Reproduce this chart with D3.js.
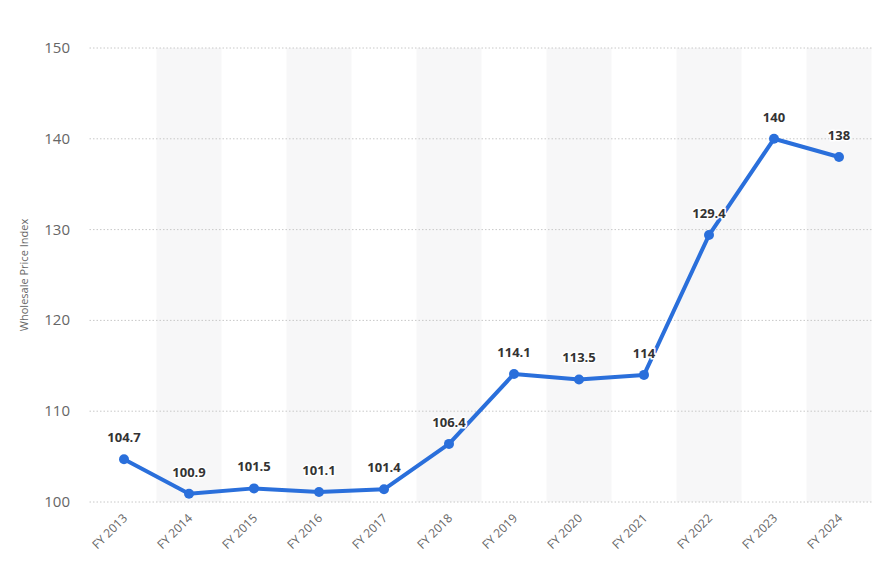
<!DOCTYPE html>
<html>
<head>
<meta charset="utf-8">
<script src="https://cdn.jsdelivr.net/npm/d3@7"></script>
<style>
  body { margin: 0; background: #fff; }
  text { font-family: "Open Sans", "DejaVu Sans", sans-serif; }
</style>
</head>
<body>
<svg id="chart" width="879" height="567"></svg>
<script>
// Chart data
const years = ['FY 2013', 'FY 2014', 'FY 2015', 'FY 2016', 'FY 2017', 'FY 2018',
               'FY 2019', 'FY 2020', 'FY 2021', 'FY 2022', 'FY 2023', 'FY 2024'];
const wpi = [104.7, 100.9, 101.5, 101.1, 101.4, 106.4, 114.1, 113.5, 114, 129.4, 140, 138];
const yTicks = [100, 110, 120, 130, 140, 150];

const svg = d3.select('#chart');
const plotLeft = 91.5, plotRight = 871.5, plotTop = 48, plotBottom = 502;

const x = d3.scaleBand().domain(years).range([plotLeft, plotRight]);
const y = d3.scaleLinear().domain([100, 150]).range([plotBottom, plotTop]);

// Alternating shaded bands
svg.selectAll('rect.band')
    .data(years.filter((d, i) => i % 2 === 1))
    .enter().append('rect')
    .attr('x', d => x(d))
    .attr('y', plotTop)
    .attr('width', x.bandwidth())
    .attr('height', plotBottom - plotTop)
    .attr('fill', '#f7f7f8');

// Gridlines
svg.selectAll('line.grid')
    .data(yTicks)
    .enter().append('line')
    .attr('x1', plotLeft - 2).attr('x2', plotRight)
    .attr('y1', d => y(d)).attr('y2', d => y(d))
    .attr('stroke', '#c8c8c8')
    .attr('stroke-dasharray', '1.5,2');

// Y tick labels
svg.selectAll('text.ytick')
    .data(yTicks)
    .enter().append('text')
    .attr('x', 70).attr('y', d => y(d) + 5)
    .attr('text-anchor', 'end')
    .attr('font-size', 15)
    .attr('fill', '#666')
    .text(d => d);

// Y axis title
svg.append('text')
    .attr('transform', 'translate(28,275) rotate(-90)')
    .attr('text-anchor', 'middle')
    .attr('font-size', 11)
    .attr('fill', '#666')
    .text('Wholesale Price Index');

// X tick labels
const cx = d => x(d) + x.bandwidth() / 2;
svg.selectAll('text.xtick')
    .data(years)
    .enter().append('text')
    .attr('transform', d => `translate(${cx(d) + 4},${plotBottom + 17}) rotate(-45)`)
    .attr('text-anchor', 'end')
    .attr('font-size', 12)
    .attr('fill', '#666')
    .text(d => d);

// Line
const line = d3.line()
    .x((d, i) => cx(years[i]))
    .y(d => y(d));
svg.append('path')
    .datum(wpi)
    .attr('d', line)
    .attr('fill', 'none')
    .attr('stroke', '#2a6fdb')
    .attr('stroke-width', 4)
    .attr('stroke-linejoin', 'round');

// Points
svg.selectAll('circle.pt')
    .data(wpi)
    .enter().append('circle')
    .attr('cx', (d, i) => cx(years[i]))
    .attr('cy', d => y(d))
    .attr('r', 5)
    .attr('fill', '#2a6fdb');

// Value labels
svg.selectAll('text.val')
    .data(wpi)
    .enter().append('text')
    .attr('x', (d, i) => cx(years[i]))
    .attr('y', d => y(d) - 17)
    .attr('text-anchor', 'middle')
    .attr('font-size', 13)
    .attr('font-weight', 'bold')
    .attr('fill', '#333')
    .attr('stroke', '#fff')
    .attr('stroke-width', 3)
    .attr('paint-order', 'stroke')
    .text(d => d);
</script>
</body>
</html>
